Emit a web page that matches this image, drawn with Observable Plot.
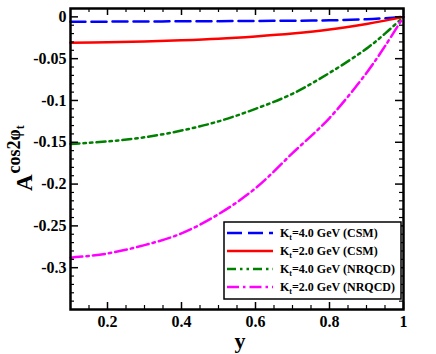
<!DOCTYPE html>
<html><head><meta charset="utf-8">
<script src="https://cdn.jsdelivr.net/npm/d3@7"></script>
<script src="https://cdn.jsdelivr.net/npm/@observablehq/plot@0.6"></script>
<style>
body{margin:0;background:#fff;}
#wrap{position:relative;width:436px;height:354px;}
#wrap svg{position:absolute;left:0;top:0;}
</style></head><body><div id="wrap"></div>
<script>
// x values (y variable)
const yGrid = [0.1, 0.2, 0.3, 0.4, 0.5, 0.6, 0.7, 0.8, 0.9, 0.95, 1.0];
// series values A^{cos2phi_t}
const kt4CSM    = [-0.0058, -0.0057, -0.0055, -0.0053, -0.0051, -0.0049, -0.0046, -0.0042, -0.0029, -0.0016, 0];
const kt2CSM    = [-0.0310, -0.0304, -0.0295, -0.0281, -0.0262, -0.0234, -0.0199, -0.0152, -0.0085, -0.0045, 0];
const kt4NRQCD  = [-0.152, -0.149, -0.144, -0.136, -0.125, -0.110, -0.092, -0.067, -0.038, -0.020, 0];
const kt2NRQCD  = [-0.288, -0.283, -0.273, -0.259, -0.236, -0.205, -0.163, -0.121, -0.067, -0.035, 0];

const seriesNames = ["=4.0 GeV (CSM)", "=2.0 GeV (CSM)", "=4.0 GeV (NRQCD)", "=2.0 GeV (NRQCD)"];
const seriesColors = ["#0000ff", "#ff0000", "#008000", "#ff00ff"];
const seriesDash = ["15,6", null, "9,4,2.5,4,2.5,4", "12,4,2.5,4"];
const seriesValues = [kt4CSM, kt2CSM, kt4NRQCD, kt2NRQCD];

const xTicks = [0.2, 0.4, 0.6, 0.8, 1];
const xTickLabels = ["0.2", "0.4", "0.6", "0.8", "1"];
const xMinor = [0.15, 0.25, 0.3, 0.35, 0.45, 0.5, 0.55, 0.65, 0.7, 0.75, 0.85, 0.9, 0.95];
const aTicks = [0, -0.05, -0.1, -0.15, -0.2, -0.25, -0.3];
const aTickLabels = ["0", "-0.05", "-0.1", "-0.15", "-0.2", "-0.25", "-0.3"];
const aMinor = [];
for (let k = -34; k <= 0; k++) { if (k % 5 !== 0) aMinor.push(k / 100); }

const FONT = "'Liberation Serif', 'Times New Roman', serif";
const W = 436, H = 354, mL = 70, mR = 33, mT = 8, mB = 45;
const plotW = W - mL - mR, plotH = H - mT - mB;

const lineMarks = seriesValues.map((vals, i) =>
  Plot.line(yGrid.map((x, j) => ({x, a: vals[j]})), {
    x: "x", y: "a", stroke: seriesColors[i], strokeWidth: 2.5,
    strokeDasharray: seriesDash[i] || undefined, curve: "catmull-rom"
  })
);

const chart = Plot.plot({
  width: W, height: H,
  marginLeft: mL, marginRight: mR, marginTop: mT, marginBottom: mB,
  style: {fontFamily: FONT, fontSize: "15px", fontWeight: "bold", background: "white", color: "black"},
  x: {domain: [0.1, 1], axis: null},
  y: {domain: [-0.35, 0.01], axis: null},
  marks: [
    ...lineMarks,
    Plot.ruleX(xTicks, {stroke: "black", strokeWidth: 1.5, insetTop: plotH - 7}),
    Plot.ruleX(xTicks, {stroke: "black", strokeWidth: 1.5, insetBottom: plotH - 7}),
    Plot.ruleX(xMinor, {stroke: "black", strokeWidth: 1.2, insetTop: plotH - 4}),
    Plot.ruleX(xMinor, {stroke: "black", strokeWidth: 1.2, insetBottom: plotH - 4}),
    Plot.ruleY(aTicks, {stroke: "black", strokeWidth: 1.5, insetRight: plotW - 8}),
    Plot.ruleY(aTicks, {stroke: "black", strokeWidth: 1.5, insetLeft: plotW - 8}),
    Plot.ruleY(aMinor, {stroke: "black", strokeWidth: 1.2, insetRight: plotW - 4}),
    Plot.ruleY(aMinor, {stroke: "black", strokeWidth: 1.2, insetLeft: plotW - 4}),
    Plot.text(xTicks, {x: d => d, frameAnchor: "bottom", lineAnchor: "top", dy: 6,
      text: (d, i) => xTickLabels[i], fontSize: 16, fontWeight: "bold", fontFamily: FONT, fill: "black"}),
    Plot.text(aTicks, {y: d => d, frameAnchor: "left", textAnchor: "end", dx: -4,
      text: (d, i) => aTickLabels[i], fontSize: 16, fontWeight: "bold", fontFamily: FONT, fill: "black"}),
    Plot.frame({stroke: "black", strokeWidth: 2.5})
  ]
});

const wrap = document.getElementById("wrap");
wrap.appendChild(chart);

// overlay: axis titles and legend
const ov = d3.select(wrap).append("svg")
  .attr("width", W).attr("height", H)
  .style("pointer-events", "none")
  .style("font-family", FONT)
  .style("font-weight", "bold");

// x title
ov.append("text").attr("x", 240).attr("y", 348).attr("text-anchor", "middle")
  .attr("font-size", 22).text("y");

// y title
const yt = ov.append("text").attr("transform", "translate(32,191) rotate(-90)")
  .attr("font-size", 23);
yt.append("tspan").text("A");
yt.append("tspan").attr("font-size", 18).attr("dy", -12).attr("dx", 1).text("cos2\u03C6");
yt.append("tspan").attr("font-size", 12).attr("dy", 4).text("t");

// legend
const lx = 224, ly = 222, lw = 177, lh = 77;
ov.append("rect").attr("x", lx).attr("y", ly).attr("width", lw).attr("height", lh)
  .attr("fill", "white").attr("stroke", "black").attr("stroke-width", 1.5);
const rowY = [233, 251, 269, 287];
seriesNames.forEach((name, i) => {
  ov.append("line").attr("x1", 227).attr("x2", 273).attr("y1", rowY[i]).attr("y2", rowY[i])
    .attr("stroke", seriesColors[i]).attr("stroke-width", 2.5)
    .attr("stroke-dasharray", seriesDash[i] || null);
  const t = ov.append("text").attr("x", 280).attr("y", rowY[i] + 4).attr("font-size", 12);
  t.append("tspan").text("K");
  t.append("tspan").attr("font-size", 8).attr("dy", 3).text("t");
  t.append("tspan").attr("dy", -3).text(name);
});
</script>
</body></html>
